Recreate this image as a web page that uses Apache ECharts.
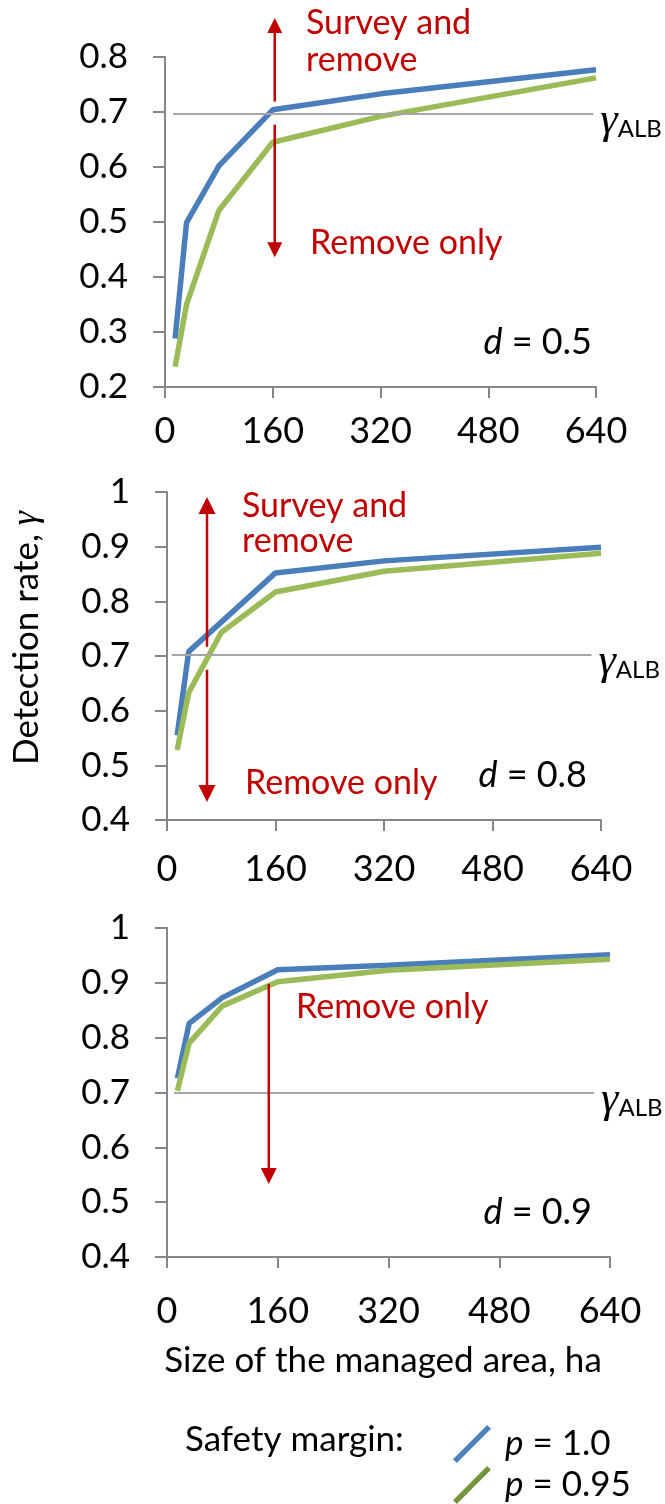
<!DOCTYPE html>
<html><head><meta charset="utf-8">
<script src="https://cdn.jsdelivr.net/npm/echarts@6/dist/echarts.min.js"></script>
<style>html,body{margin:0;padding:0;background:#fff}#c{width:665px;height:1504px}</style>
</head><body><div id="c"></div>
<script>
// ---- data ----
const xTickValues = [0, 160, 320, 480, 640];
const areaHa = [15, 32, 80, 160, 320, 640];
const panelD = ['0.5', '0.8', '0.9'];
const rate_p100_d05 = [0.288, 0.499, 0.602, 0.704, 0.733, 0.777];
const rate_p095_d05 = [0.237, 0.350, 0.521, 0.645, 0.692, 0.762];
const rate_p100_d08 = [0.555, 0.708, 0.762, 0.852, 0.874, 0.899];
const rate_p095_d08 = [0.528, 0.633, 0.743, 0.817, 0.855, 0.888];
const rate_p100_d09 = [0.726, 0.826, 0.873, 0.924, 0.932, 0.951];
const rate_p095_d09 = [0.703, 0.790, 0.858, 0.902, 0.923, 0.943];
const yMin = [0.2, 0.4, 0.4];
const yMax = [0.8, 1.0, 1.0];
const gammaALB = [0.697, 0.703, 0.700];
const gammaFromX = [12, 7, 10];
const gammaToX = [636, 626, 617];
// arrows: [x, start, tip] per panel
const arrowsD05 = [[163, 0.719, 0.871], [163, 0.677, 0.436]];
const arrowsD08 = [[59, 0.717, 0.991], [59, 0.675, 0.433]];
const arrowsD09 = [[147, 0.898, 0.533]];
const seriesNames = ['p = 1.0', 'p = 0.95'];

// ---- layout / style ----
const FONT = 'Lato';
const grids = [
  {left: 165, top: 57, width: 431, height: 330},
  {left: 167, top: 492, width: 434, height: 328},
  {left: 167, top: 928, width: 443, height: 329}
];
const xLabelMargin = [26, 31, 36];
const arrowHead = [15, 17, 16];
const BLUE = '#4A7EBB', GREEN = '#9BBB59', RED = '#C00000', AXIS = '#868686', GREY = '#A6A6A6';
const rates = [[rate_p100_d05, rate_p095_d05], [rate_p100_d08, rate_p095_d08], [rate_p100_d09, rate_p095_d09]];
const arrows = [arrowsD05, arrowsD08, arrowsD09];

const xAxes = [], yAxes = [], series = [];
const pair = (xs, ys) => xs.map((x, i) => [x, ys[i]]);
const gammaRich = {
  g: {fontFamily: 'Liberation Serif', fontStyle: 'italic', fontSize: 44, color: '#000', lineHeight: 42},
  s: {fontFamily: FONT, fontSize: 24, color: '#000', padding: [16, 0, 0, 0], lineHeight: 42}
};

for (let k = 0; k < 3; k++) {
  xAxes.push({
    gridIndex: k, type: 'value', min: 0, max: 640, interval: 160,
    axisLine: {show: true, lineStyle: {color: AXIS, width: 2}},
    axisTick: {show: true, length: 11, lineStyle: {color: AXIS, width: 2}},
    axisLabel: {fontFamily: FONT, fontSize: 36, color: '#000', margin: xLabelMargin[k],
      formatter: v => xTickValues.includes(v) ? String(v) : ''},
    splitLine: {show: false},
    name: k === 2 ? 'Size of the managed area, ha' : '',
    nameLocation: 'middle', nameGap: 86,
    nameTextStyle: {fontFamily: FONT, fontSize: 35, color: '#000', padding: [0, 11, 0, 0]}
  });
  yAxes.push({
    gridIndex: k, type: 'value', min: yMin[k], max: yMax[k], interval: 0.1,
    axisLine: {show: true, lineStyle: {color: AXIS, width: 2}},
    axisTick: {show: true, length: 12, lineStyle: {color: AXIS, width: 2}},
    axisLabel: {fontFamily: FONT, fontSize: 35, color: '#000', margin: 37,
      formatter: v => (Math.round(v * 10) / 10).toString()},
    splitLine: {show: false}
  });
  // gamma_ALB threshold (below data lines)
  series.push({
    type: 'line', xAxisIndex: k, yAxisIndex: k, data: [], z: 1, silent: true,
    markLine: {silent: true, animation: false, symbol: ['none', 'none'],
      data: [[
        {coord: [gammaFromX[k], gammaALB[k]], lineStyle: {color: GREY, width: 2, type: 'solid'},
         label: {show: true, position: 'end', distance: 7, formatter: '{g|γ}{s|ALB}', rich: gammaRich, padding: [16, 0, 0, 0]}},
        {coord: [gammaToX[k], gammaALB[k]]}
      ]]}
  });
  series.push({
    name: seriesNames[0], type: 'line', xAxisIndex: k, yAxisIndex: k, z: 2,
    data: pair(areaHa, rates[k][0]), showSymbol: false, symbol: 'none',
    lineStyle: {color: BLUE, width: 5.5}, itemStyle: {color: BLUE}, animation: false
  });
  series.push({
    name: seriesNames[1], type: 'line', xAxisIndex: k, yAxisIndex: k, z: 3,
    data: pair(areaHa, rates[k][1]), showSymbol: false, symbol: 'none',
    lineStyle: {color: GREEN, width: 5.5}, itemStyle: {color: GREEN}, animation: false
  });
  const head = arrowHead[k];
  series.push({
    type: 'custom', xAxisIndex: k, yAxisIndex: k, z: 5, silent: true, clip: false,
    data: arrows[k],
    renderItem: (params, api) => {
      const p0 = api.coord([api.value(0), api.value(1)]);
      const p1 = api.coord([api.value(0), api.value(2)]);
      const dir = p1[1] > p0[1] ? 1 : -1;
      const base = p1[1] - dir * head;
      return {type: 'group', children: [
        {type: 'line', shape: {x1: p0[0], y1: p0[1], x2: p1[0], y2: base + dir * 2}, style: {stroke: RED, lineWidth: 2.5}},
        {type: 'polygon', shape: {points: [[p1[0], p1[1]], [p1[0] - head / 2, base], [p1[0] + head / 2, base]]}, style: {fill: RED}}
      ]};
    }
  });
}

const txt = (x, y, text, opts) => ({
  type: 'text', x, y, silent: true, z: 10,
  style: Object.assign({text, fill: '#000', fontFamily: FONT, fontSize: 35, align: 'left', verticalAlign: 'middle'}, opts || {})
});
const italicRich = {i: {fontStyle: 'italic', fontFamily: FONT, fontSize: 36, fill: '#000'}};

const graphic = [
  txt(306, 42, 'Survey and\nremove', {fill: RED, fontSize: 34, lineHeight: 37}),
  txt(310, 243, 'Remove only', {fill: RED, fontSize: 34}),
  txt(592, 342, '{i|d} = ' + panelD[0], {align: 'right', fontSize: 36, rich: italicRich}),
  txt(242, 524, 'Survey and\nremove', {fill: RED, fontSize: 34, lineHeight: 35}),
  txt(245, 783, 'Remove only', {fill: RED, fontSize: 34}),
  txt(587, 775, '{i|d} = ' + panelD[1], {align: 'right', fontSize: 36, rich: italicRich}),
  txt(296, 1007, 'Remove only', {fill: RED, fontSize: 34}),
  txt(592, 1212, '{i|d} = ' + panelD[2], {align: 'right', fontSize: 36, rich: italicRich}),
  Object.assign(txt(27, 638, 'Detection rate, {g|γ}', {align: 'center',
    rich: {g: {fontFamily: 'Liberation Serif', fontStyle: 'italic', fontSize: 36, fill: '#000'}}}), {rotation: Math.PI / 2}),
  txt(185, 1440, 'Safety margin:', {})
];

const chart = echarts.init(document.getElementById('c'), null, {renderer: 'canvas'});
chart.setOption({
  backgroundColor: '#fff',
  animation: false,
  grid: grids,
  xAxis: xAxes,
  yAxis: yAxes,
  series,
  graphic,
  legend: {
    orient: 'vertical', left: 453, top: 1425, height: 100, padding: 0,
    itemWidth: 40, itemHeight: 38, itemGap: 3,
    selectedMode: false,
    data: [
      {name: seriesNames[0], icon: 'path://M0,36 L36,0 L40,4 L4,40 Z', itemStyle: {color: '#4F81BD', borderWidth: 0}},
      {name: seriesNames[1], icon: 'path://M0,36 L36,0 L40,4 L4,40 Z', itemStyle: {color: '#77933C', borderWidth: 0}}
    ],
    formatter: name => '{i|p}' + name.slice(1),
    textStyle: {fontFamily: FONT, fontSize: 35, color: '#000', lineHeight: 38, padding: [0, 0, 0, 8],
      rich: {i: {fontStyle: 'italic', fontFamily: FONT, fontSize: 35, color: '#000', lineHeight: 38}}}
  }
});
</script></body></html>
